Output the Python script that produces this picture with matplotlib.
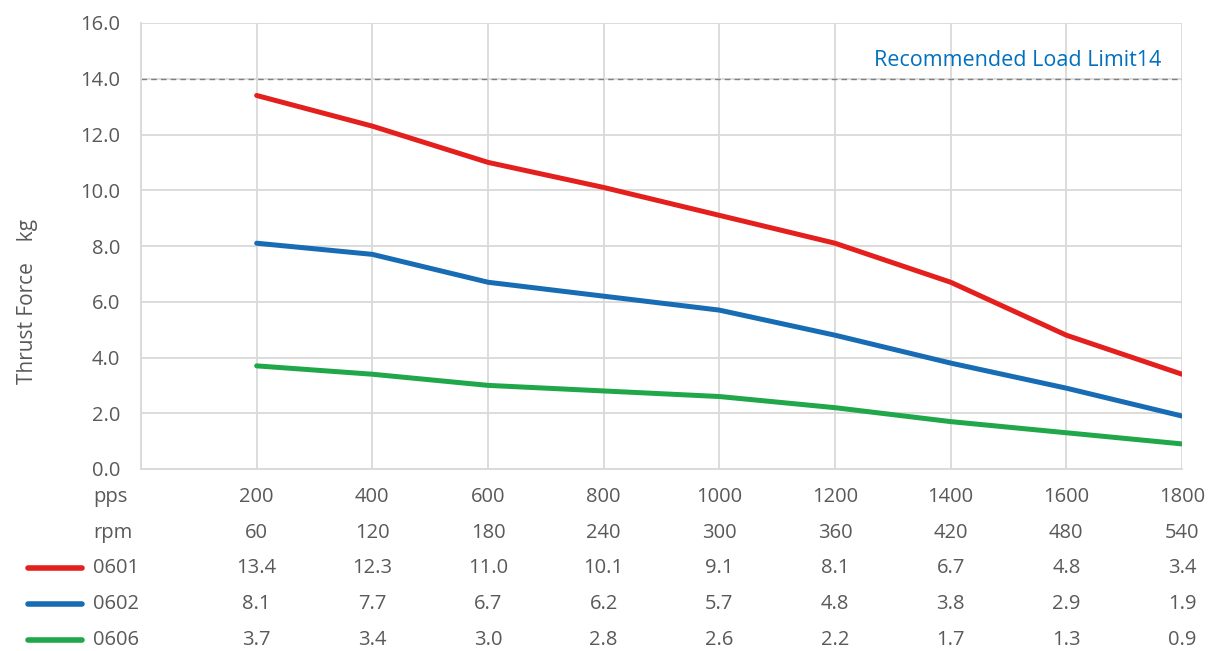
import numpy as np
import matplotlib.pyplot as plt
from matplotlib.transforms import blended_transform_factory

plt.rcParams['font.family'] = ['Open Sans', 'DejaVu Sans']

# data
pps = [200, 400, 600, 800, 1000, 1200, 1400, 1600, 1800]
rpm = [60, 120, 180, 240, 300, 360, 420, 480, 540]
f0601 = [13.4, 12.3, 11.0, 10.1, 9.1, 8.1, 6.7, 4.8, 3.4]
f0602 = [8.1, 7.7, 6.7, 6.2, 5.7, 4.8, 3.8, 2.9, 1.9]
f0606 = [3.7, 3.4, 3.0, 2.8, 2.6, 2.2, 1.7, 1.3, 0.9]
series_names = ['0601', '0602', '0606']
limit = 14
limit_label = 'Recommended Load Limit14'

colors = ['#E4201E', '#176CB4', '#1FA74A']
txt = '#595959'
W, H = 1213, 651

fig = plt.figure(figsize=(W / 100, H / 100), dpi=100)
ax = fig.add_axes([141 / W, 1 - 469 / H, (1182 - 141) / W, (469 - 23) / H])

x = np.arange(1, len(pps) + 1)
for vals, c in zip([f0601, f0602, f0606], colors):
    ax.plot(x, vals, color=c, lw=3.6, solid_capstyle='round', zorder=3)

ax.axhline(limit, color='#808080', lw=1, ls=(0, (4, 3)), zorder=2)
ax.text(8.82, limit + 0.47, limit_label, color='#0070C0', fontsize=15.5,
        ha='right', va='baseline')

ax.set_xlim(0, len(pps))
ax.set_ylim(0, 16)
ax.set_yticks(np.arange(0, 17, 2))
ax.set_yticklabels([f'{v:.1f}' for v in np.arange(0, 17, 2)])
ax.set_xticks(np.arange(0, len(pps) + 1))
ax.set_xticklabels([])
ax.grid(True, color='#D9D9D9', lw=1.3)
ax.set_axisbelow(True)
for s in ['top', 'right']:
    ax.spines[s].set_visible(False)
for s in ['left', 'bottom']:
    ax.spines[s].set_color('#D9D9D9')
    ax.spines[s].set_linewidth(1.3)
ax.tick_params(axis='y', length=0, pad=15, labelsize=14.5, labelcolor=txt)
ax.tick_params(axis='x', length=0)

fig.text(28 / W, 1 - 301 / H, 'Thrust Force\u3000kg', rotation=90,
         ha='center', va='center', fontsize=15, color=txt,
         family=['Open Sans', 'Noto Sans CJK JP', 'DejaVu Sans'])

# data table under the chart
tr = blended_transform_factory(ax.transData, fig.transFigure)
rows = [('pps', pps, None), ('rpm', rpm, None)]
for name, vals, c in zip(series_names, [f0601, f0602, f0606], colors):
    rows.append((name, [f'{v:.1f}' for v in vals], c))
row_y = [497, 533, 568, 604, 640]
for (name, vals, c), yp in zip(rows, row_y):
    yf = 1 - yp / H
    fig.text(93 / W, yf, name, ha='left', va='center', fontsize=14.5, color=txt)
    if c is not None:
        fig.add_artist(plt.Line2D([28 / W, 82 / W], [yf, yf], color=c, lw=4,
                                  solid_capstyle='round'))
    for xi, v in zip(x, vals):
        ax.text(xi, yf, str(v), transform=tr, ha='center', va='center',
                fontsize=14.5, color=txt)

fig.savefig('out.png', dpi=100)
